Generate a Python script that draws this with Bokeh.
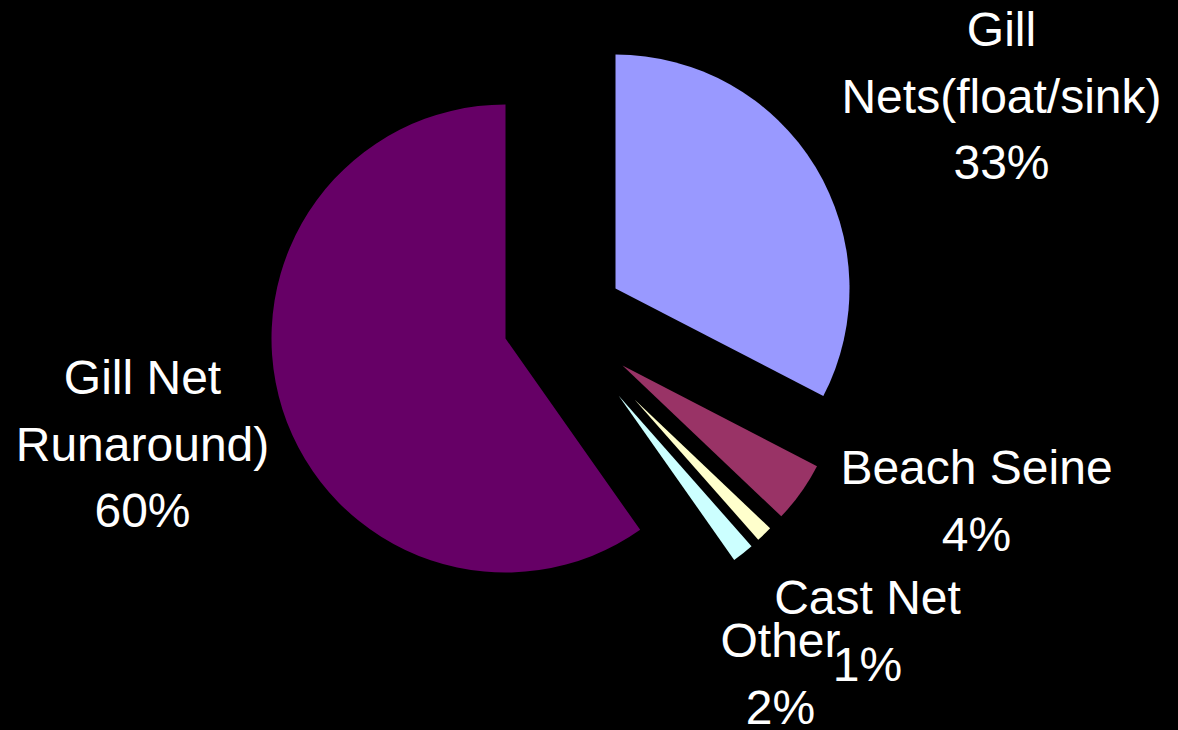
import math
from bokeh.plotting import figure
from bokeh.models import ColumnDataSource, Range1d
from bokeh.core.properties import value
from bokeh.embed import file_html
from bokeh.resources import INLINE

# ---- data ----
categories = ["Gill\nNets(float/sink)", "Beach Seine", "Cast Net", "Other", "Gill Net\nRunaround)"]
shares = [32.6, 4.49, 1.4, 1.75, 59.76]
colors = ["#9999FF", "#993366", "#FFFFCC", "#CCFFFF", "#660066"]

# ---- style / layout (page pixels, y downward) ----
explode_off = [(52, -31), (59, 46), (71, 80), (55, 76), (-58, 19)]   # apex offset of each slice
slice_radius = [234, 219, 187, 201, 234]
label_anchor = [(1001, 47), (976, 485), (867, 615), (780, 658), (142, 395)]  # first baseline
line_step = 66.5
baseline_fix = 18
cx_page, cy_page = 563, 319
W, H = 1178, 730

total = sum(shares)
xs, ys, starts, ends = [], [], [], []
acc = 0.0
for v, (dx, dy) in zip(shares, explode_off):
    th0 = acc / total * 360.0
    th1 = (acc + v) / total * 360.0
    xs.append(cx_page + dx)
    ys.append(H - (cy_page + dy))
    starts.append(math.radians(90.0 - th0))
    ends.append(math.radians(90.0 - th1))
    acc += v

src = ColumnDataSource(dict(x=xs, y=ys, r=slice_radius, s=starts, e=ends, c=colors))

p = figure(width=W, height=H, output_backend="svg", toolbar_location=None,
           x_range=Range1d(0, W), y_range=Range1d(0, H),
           min_border=0, background_fill_color="#000000", border_fill_color="#000000")
p.axis.visible = False
p.grid.visible = False
p.outline_line_color = None

p.wedge(x="x", y="y", radius="r", start_angle="s", end_angle="e",
        direction="clock", fill_color="c", line_color=None, source=src)

tx, ty, tt = [], [], []
for name, v, (ax, ay) in zip(categories, shares, label_anchor):
    lines = name.split("\n") + [f"{round(v)}%"]
    for i, ln in enumerate(lines):
        tx.append(ax)
        ty.append(H - (ay + i * line_step) + baseline_fix)
        tt.append(ln)

p.text(x=tx, y=ty, text=tt, text_align="center", text_baseline="alphabetic",
       text_color="#FFFFFF", text_font=value("Liberation Sans"), text_font_size="48px")

html = file_html(p, INLINE)
html = html.replace("</head>",
                    "<style>html,body{margin:0;padding:0;background-color:#000000;overflow:hidden;}</style></head>", 1)
open("out.html", "w").write(html)
